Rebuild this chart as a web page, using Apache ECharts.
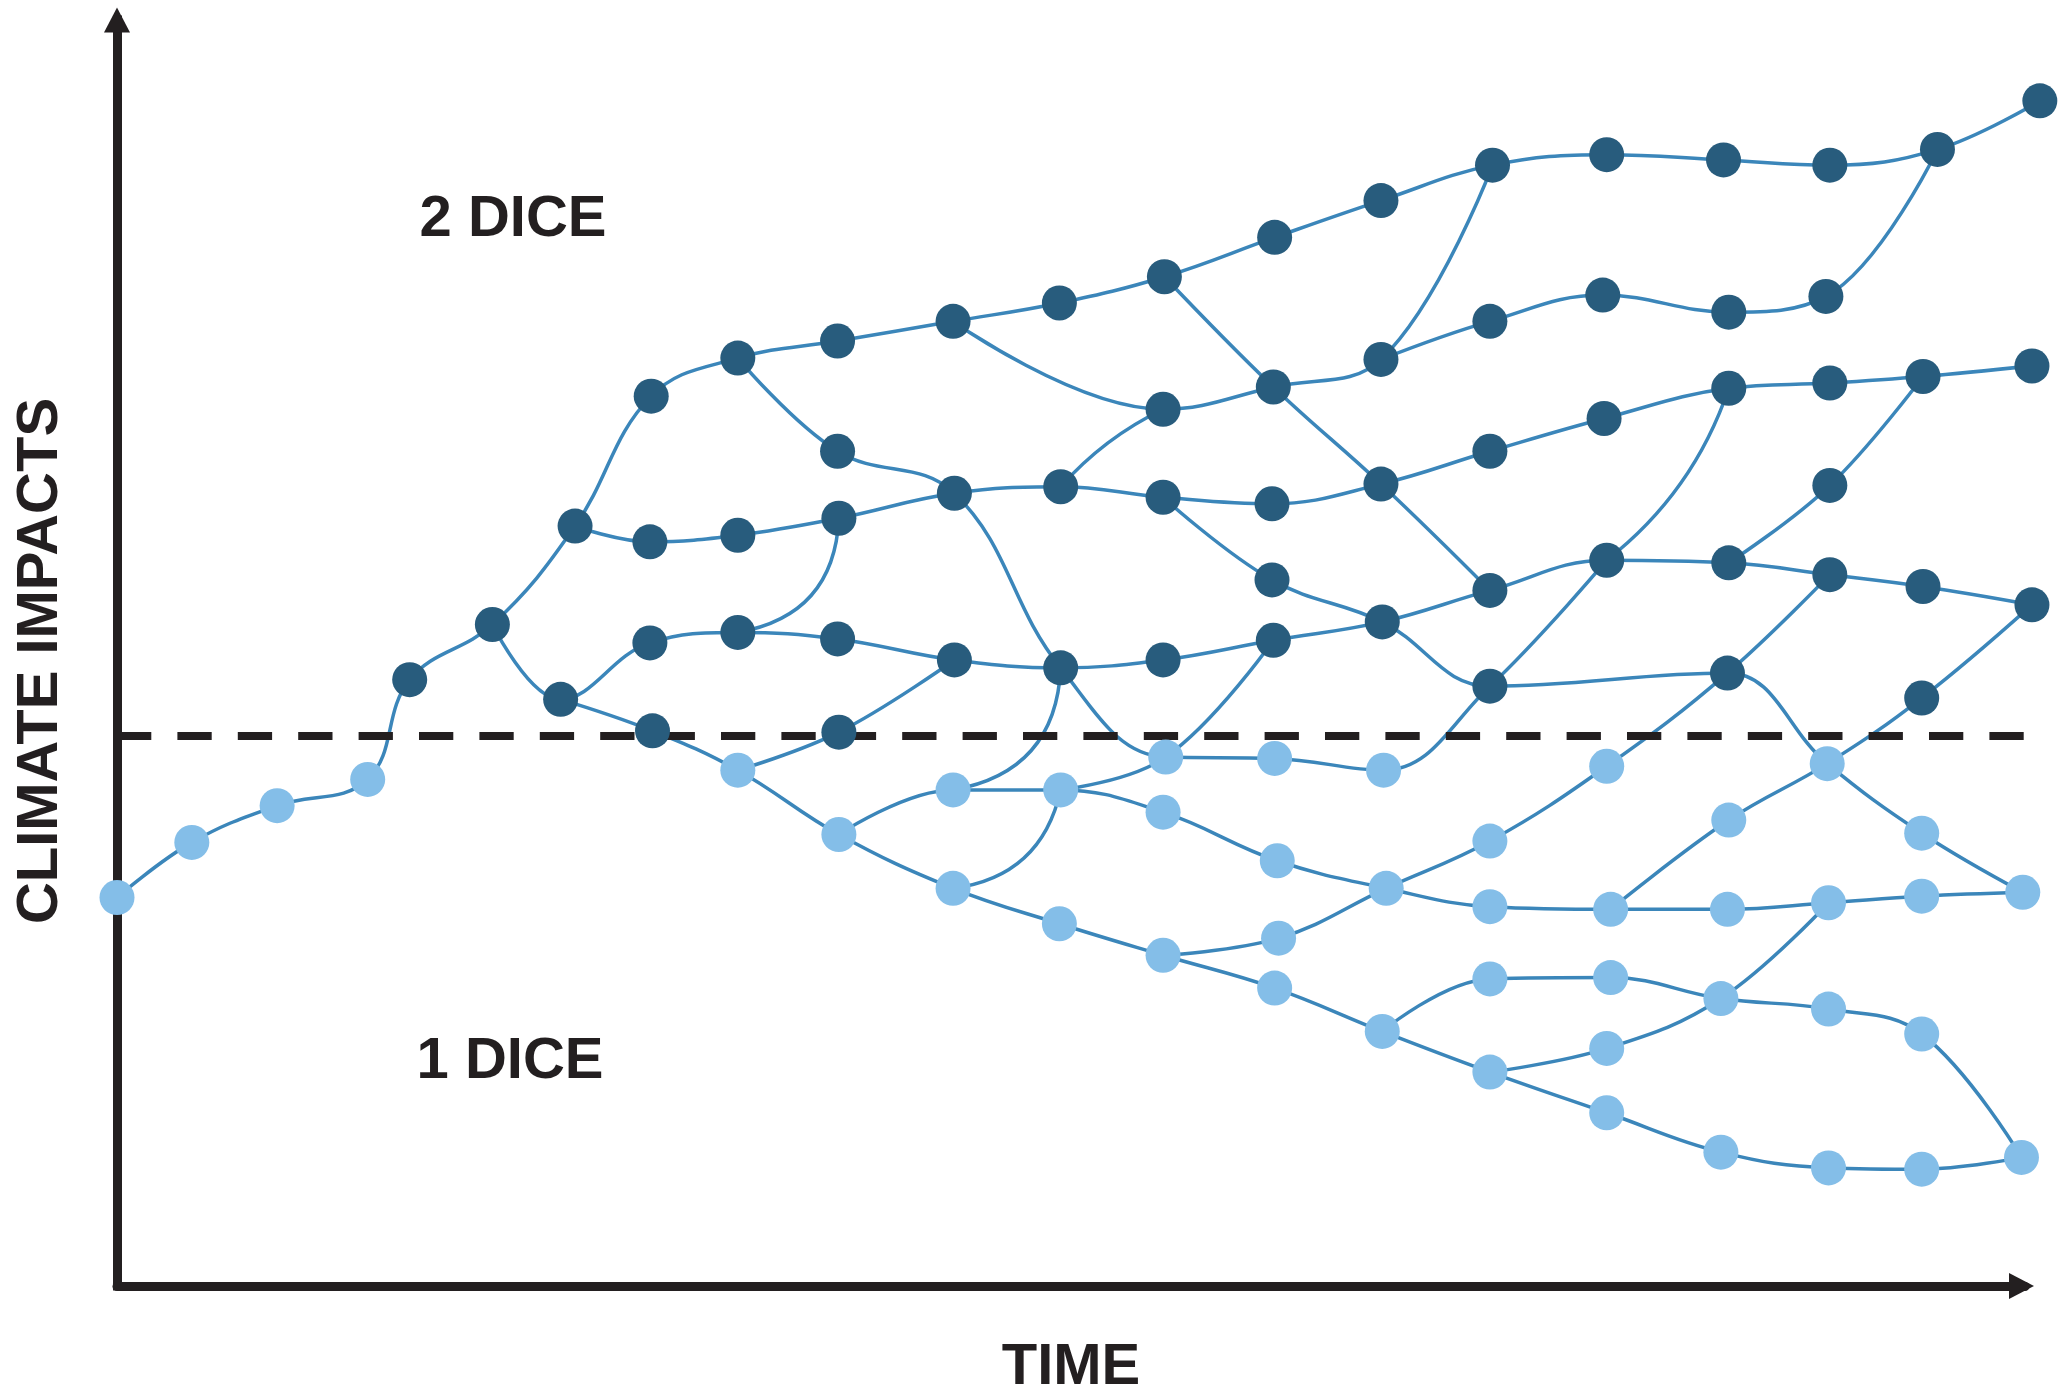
<!DOCTYPE html>
<html>
<head>
<meta charset="utf-8">
<script src="https://cdn.jsdelivr.net/npm/echarts@6/dist/echarts.min.js"></script>
<style>
    html, body { margin: 0; padding: 0; background: #ffffff; }
    #chart { width: 2058px; height: 1387px; }
</style>
</head>
<body>
<div id="chart"></div>
<script>
    // [time, climate impact]; above the threshold = 2 dice, below = 1 dice
    var threshold = 419;

    var pathTop = [[0, 296], [57, 338], [122, 366], [191, 386], [223, 462], [286, 504], [349, 579], [407, 678],
        [473, 707], [549, 720], [637, 735], [718, 749], [798, 769], [882, 799], [963, 827], [1048, 854],
        [1135, 862], [1224, 858], [1305, 854], [1387, 866], [1465, 903]];
    var pathB = [[349, 579], [406, 567], [473, 572], [550, 585], [638, 604], [719, 609], [797, 601], [880, 596],
        [963, 611], [1046, 636], [1133, 661], [1228, 684], [1305, 688], [1376, 693], [1459, 701]];
    var pathC = [[286, 504], [338, 447], [406, 490], [473, 498], [549, 493], [638, 477], [719, 471], [797, 477],
        [881, 492], [964, 506], [1046, 530], [1135, 553], [1228, 551], [1305, 542], [1376, 533], [1459, 519]];
    var pathD = [[338, 447], [408, 423], [473, 393], [550, 344], [637, 303], [718, 276], [797, 252], [882, 227],
        [964, 194], [1046, 163], [1135, 132], [1222, 102], [1304, 90], [1375, 89], [1451, 98]];
    var pathE = [[473, 707], [549, 636], [638, 604], [719, 471], [799, 403], [882, 402], [965, 393], [1046, 457], [1135, 553]];
    var pathF = [[637, 735], [797, 668], [881, 685], [963, 706], [1048, 854]];
    var pathG = [[963, 706], [1046, 735], [1132, 755], [1228, 742], [1302, 754], [1387, 866]];
    var pathH = [[798, 769], [881, 685], [963, 611], [1046, 530]];
    var pathI = [[473, 393], [550, 422], [638, 477]];
    var pathJ = [[550, 344], [637, 378], [719, 378], [797, 361], [884, 324], [967, 303], [1046, 289], [1138, 287],
        [1227, 287], [1304, 292], [1375, 297], [1452, 300]];
    var pathL = [[719, 378], [799, 403], [881, 492]];
    var pathM = [[797, 601], [880, 538], [964, 506], [1046, 457], [1227, 467], [1303, 398], [1375, 345], [1452, 300]];
    var pathN = [[1228, 551], [1305, 610], [1376, 693]];
    var pathR = [[1138, 287], [1228, 355], [1303, 398], [1375, 448], [1459, 519]];
    var pathS = [[797, 252], [885, 265], [967, 303], [1046, 339], [1135, 396], [1227, 467], [1305, 542]];
    var pathT = [[964, 194], [1046, 234], [1138, 235], [1222, 219], [1304, 211], [1375, 192], [1451, 98]];
    var pathU = [[1046, 163], [1135, 181], [1222, 219], [1304, 292]];

    // single branches that bend on their own
    var links = [
        [[550, 585], [473, 498]],
        [[637, 378], [719, 471]],
        [[637, 303], [719, 378]],
        [[719, 609], [797, 668]],
        [[1135, 553], [1228, 684]]
    ];
    var linkBend = [0.4, -0.4, -0.35, 0.1, -0.15];

    var paths = [pathTop, pathB, pathC, pathD, pathE, pathF, pathG, pathH, pathI, pathJ,
        pathL, pathM, pathN, pathR, pathS, pathT, pathU];

    var ink = '#231f20';
    var linkColor = '#3b86ba';
    var font = '"Liberation Sans", Arial, sans-serif';

    // every state once
    var seen = {};
    var nodes = [];
    paths.forEach(function (p) {
        p.forEach(function (pt) {
            var k = pt[0] + ',' + pt[1];
            if (!seen[k]) { seen[k] = 1; nodes.push(pt); }
        });
    });
    var twoDice = nodes.filter(function (pt) { return pt[1] > threshold; });
    var oneDice = nodes.filter(function (pt) { return pt[1] <= threshold; });

    var series = paths.map(function (p) {
        return {
            type: 'line',
            data: p,
            smooth: 0.4,
            showSymbol: false,
            symbol: 'none',
            clip: false,
            silent: true,
            z: 2,
            lineStyle: { color: linkColor, width: 3.5 }
        };
    });

    series.push({
        type: 'lines',
        coordinateSystem: 'cartesian2d',
        silent: true,
        z: 2,
        lineStyle: { color: linkColor, width: 3.5, opacity: 1 },
        data: links.map(function (l, i) {
            return { coords: l, lineStyle: { curveness: linkBend[i] } };
        })
    });

    series.push({
        name: 'threshold',
        type: 'line',
        data: [],
        markLine: {
            silent: true,
            z: 3,
            symbol: 'none',
            label: { show: false },
            lineStyle: { type: [34.3, 26.1], width: 8, color: ink },
            data: [{ yAxis: threshold }]
        }
    });

    series.push({
        type: 'scatter', data: twoDice, symbolSize: 35, clip: false, silent: true, z: 4,
        itemStyle: { color: '#285c7d', opacity: 1 }
    });
    series.push({
        type: 'scatter', data: oneDice, symbolSize: 35, clip: false, silent: true, z: 4,
        itemStyle: { color: '#84bee8', opacity: 1 }
    });

    var myChart = echarts.init(document.getElementById('chart'), null, { renderer: 'canvas' });
    var option = {
        backgroundColor: '#ffffff',
        animation: false,
        grid: { left: 117, right: 33, top: 20, bottom: 101, outerBoundsMode: 'none' },
        xAxis: {
            type: 'value', min: 0, max: 1453.7,
            name: 'TIME', nameLocation: 'middle', nameGap: 53,
            nameTextStyle: { fontFamily: font, fontWeight: 'bold', fontSize: 58, color: ink },
            axisLine: {
                show: true, onZero: false,
                symbol: ['none', 'triangle'], symbolSize: [26, 25], symbolOffset: [0, -3.5],
                lineStyle: { color: ink, width: 9 }
            },
            axisTick: { show: false }, axisLabel: { show: false }, splitLine: { show: false }
        },
        yAxis: {
            type: 'value', min: 0, max: 964.6,
            name: 'CLIMATE IMPACTS', nameLocation: 'middle', nameGap: 47, nameRotate: 90,
            nameTextStyle: {
                fontFamily: font, fontWeight: 'bold', fontSize: 58, color: ink,
                padding: [0, 16, 0, 0]
            },
            axisLine: {
                show: true, onZero: false,
                symbol: ['none', 'triangle'], symbolSize: [26, 25], symbolOffset: [0, 0],
                lineStyle: { color: ink, width: 9, cap: 'square' }
            },
            axisTick: { show: false }, axisLabel: { show: false }, splitLine: { show: false }
        },
        graphic: [
            {
                type: 'text', x: 513, y: 220, silent: true,
                style: { text: '2 DICE', font: 'bold 58px ' + font, fill: ink, align: 'center', verticalAlign: 'middle' }
            },
            {
                type: 'text', x: 510, y: 1062, silent: true,
                style: { text: '1 DICE', font: 'bold 58px ' + font, fill: ink, align: 'center', verticalAlign: 'middle' }
            }
        ],
        series: series
    };
    myChart.setOption(option);
</script>
</body>
</html>
